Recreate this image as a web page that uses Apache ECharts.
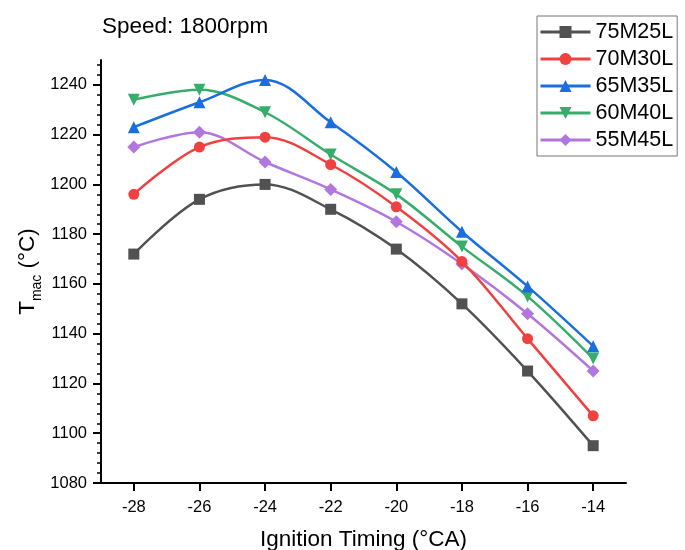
<!DOCTYPE html>
<html><head><meta charset="utf-8">
<script src="https://cdn.jsdelivr.net/npm/echarts@6/dist/echarts.min.js"></script>
<style>html,body{margin:0;padding:0;background:#fff}#c{width:685px;height:550px}</style>
</head><body><div id="c"></div>
<script>
const timing = [-28, -26, -24, -22, -20, -18, -16, -14];
const xTicks = [-28, -26, -24, -22, -20, -18, -16, -14];
const yTicks = [1080, 1100, 1120, 1140, 1160, 1180, 1200, 1220, 1240];
const yMinorTicks = [1084,1088,1092,1096,1104,1108,1112,1116,1124,1128,1132,1136,1144,1148,1152,1156,1164,1168,1172,1176,1184,1188,1192,1196,1204,1208,1212,1216,1224,1228,1232,1236,1244,1248];
const seriesNames = ['75M25L', '70M30L', '65M35L', '60M40L', '55M45L'];
const s75M25L = [1172, 1194, 1200, 1190, 1174, 1152, 1125, 1095];
const s70M30L = [1196, 1215, 1219, 1208, 1191, 1169, 1138, 1107];
const s65M35L = [1223, 1233, 1242, 1225, 1205, 1181, 1159, 1135];
const s60M40L = [1234, 1238, 1229, 1212, 1196, 1175, 1155, 1130];
const s55M45L = [1215, 1221, 1209, 1198, 1185, 1168, 1148, 1125];
const allValues = [s75M25L, s70M30L, s65M35L, s60M40L, s55M45L];

const colors = ['#515151', '#F14040', '#1A6FDF', '#37AD6B', '#B177DE'];
const symbols = ['rect', 'circle', 'triangle', 'path://M0,0 L10,0 L5,9 Z', 'diamond'];
const symbolSizes = [11, 11, 12, 12, 13];
const FONT = 'Liberation Sans, Arial, sans-serif';

const chart = echarts.init(document.getElementById('c'));
chart.setOption({
  animation: false,
  textStyle: { fontFamily: FONT },
  title: {
    text: 'Speed: 1800rpm', left: 97, top: 10,
    textStyle: { fontFamily: FONT, fontSize: 22.5, fontWeight: 'normal', color: '#000' }
  },
  legend: {
    orient: 'vertical', left: 537, top: 16,
    data: seriesNames,
    itemWidth: 50, itemHeight: 15, itemGap: 5,
    padding: [5, 4, 5, 2],
    borderColor: '#777', borderWidth: 1,
    lineStyle: { width: 3 },
    textStyle: { fontFamily: FONT, fontSize: 21.5, color: '#000', padding: [0, 0, 0, 0] }
  },
  grid: { left: 101, right: 59, top: 60, bottom: 67, outerBoundsMode: 'none', containLabel: false },
  xAxis: {
    type: 'value', min: -29, max: -13,
    name: 'Ignition Timing (°CA)', nameLocation: 'middle', nameGap: 45, nameMoveOverlap: false,
    nameTextStyle: { fontFamily: FONT, fontSize: 22.5, color: '#000' },
    axisLine: { show: true, onZero: false, lineStyle: { color: '#000', width: 2 } },
    axisTick: { show: true, customValues: xTicks, length: 8, lineStyle: { color: '#000', width: 2 } },
    axisLabel: { customValues: xTicks, margin: 16, fontFamily: FONT, fontSize: 16.5, color: '#000' },
    splitLine: { show: false }
  },
  yAxis: [{
    type: 'value', min: 1080, max: 1250,
    name: '{t|T}{s|mac}{t| (°C)}', nameLocation: 'middle', nameGap: 57, nameRotate: 90, nameMoveOverlap: false,
    nameTextStyle: {
      color: '#000',
      rich: {
        t: { fontFamily: FONT, fontSize: 22.5, color: '#000' },
        s: { fontFamily: FONT, fontSize: 14, color: '#000', lineHeight: 32, verticalAlign: 'bottom' }
      }
    },
    axisLine: { show: true, onZero: false, lineStyle: { color: '#000', width: 2 } },
    axisTick: { show: true, customValues: yTicks, length: 8, lineStyle: { color: '#000', width: 2 } },
    axisLabel: { customValues: yTicks, margin: 14, fontFamily: FONT, fontSize: 16.5, color: '#000',
                 formatter: v => String(v) },
    splitLine: { show: false }
  }, {
    type: 'value', min: 1080, max: 1250, position: 'left',
    axisLine: { show: false },
    axisTick: { show: true, customValues: yMinorTicks, length: 4, lineStyle: { color: '#000', width: 1.5 } },
    axisLabel: { show: false },
    splitLine: { show: false }
  }],
  series: seriesNames.map((n, i) => ({
    name: n, type: 'line', yAxisIndex: 0,
    data: timing.map((t, j) => [t, allValues[i][j]]),
    smooth: 0.35,
    symbol: symbols[i], symbolSize: symbolSizes[i],
    lineStyle: { color: colors[i], width: 2.5 },
    itemStyle: { color: colors[i] },
    z: 10 - i
  }))
});
</script></body></html>
